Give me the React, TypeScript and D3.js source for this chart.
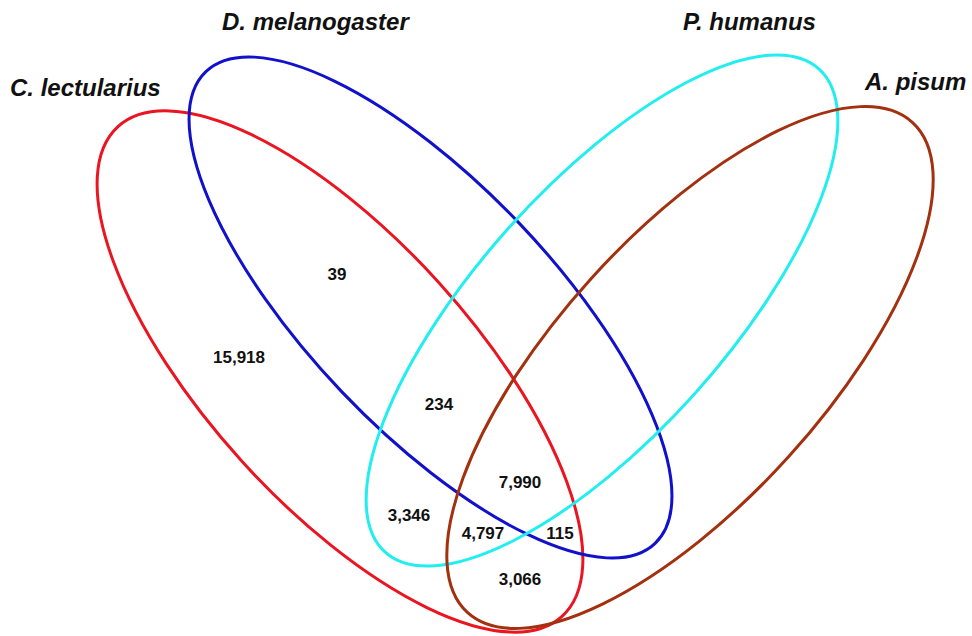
// Four-set Venn diagram of shared gene families between insect genomes
import React, { useEffect, useRef } from 'react';
import * as d3 from 'd3';

const species = ['C. lectularius', 'D. melanogaster', 'P. humanus', 'A. pisum'];
const speciesColors = ['#ea1520', '#1111cc', '#22eef0', '#a3300e'];

// counts shown in each region, with the sets the region belongs to
const regionCounts = [15918, 39, 234, 3346, 4797, 7990, 115, 3066];
const regionSets = ['C', 'CD', 'CDP', 'CP', 'CPA', 'CDPA', 'CDA', 'CA'];

// layout: ellipse centres / radii / angle in page pixels
const ellipseLayout = [
  { cx: 340, cy: 371.5, rx: 330.5, ry: 133, angle: 47.8 },
  { cx: 430.5, cy: 307.5, rx: 325.7, ry: 122.4, angle: 46.4 },
  { cx: 602, cy: 310.5, rx: 324.7, ry: 124.6, angle: -48.1 },
  { cx: 690, cy: 367.5, rx: 331, ry: 133, angle: -47.8 },
];
const titleLayout = [
  { x: 10, y: 96 },
  { x: 222, y: 30 },
  { x: 683, y: 30 },
  { x: 865, y: 90 },
];
const countLayout = [
  { x: 239, y: 357 },
  { x: 337, y: 274 },
  { x: 439, y: 404 },
  { x: 409, y: 515 },
  { x: 483, y: 533 },
  { x: 520, y: 482 },
  { x: 560, y: 533 },
  { x: 520, y: 579 },
];

const width = 972;
const height = 636;

const App: React.FC = () => {
  const svgRef = useRef<SVGSVGElement>(null);

  useEffect(() => {
    const svg = d3.select(svgRef.current);
    svg.selectAll('*').remove();

    svg.append('rect').attr('width', width).attr('height', height).attr('fill', '#fff');

    const fmt = d3.format(',');

    svg
      .append('g')
      .selectAll('ellipse')
      .data(ellipseLayout)
      .join('ellipse')
      .attr('cx', (d) => d.cx)
      .attr('cy', (d) => d.cy)
      .attr('rx', (d) => d.rx)
      .attr('ry', (d) => d.ry)
      .attr('transform', (d) => `rotate(${d.angle} ${d.cx} ${d.cy})`)
      .attr('fill', 'none')
      .attr('stroke', (_, i) => speciesColors[i])
      .attr('stroke-width', 3);

    svg
      .append('g')
      .selectAll('text')
      .data(species)
      .join('text')
      .attr('x', (_, i) => titleLayout[i].x)
      .attr('y', (_, i) => titleLayout[i].y)
      .style('font-family', 'Liberation Sans, Arial, sans-serif')
      .style('font-size', '24px')
      .style('font-weight', 'bold')
      .style('font-style', 'italic')
      .attr('fill', '#111')
      .text((d) => d);

    svg
      .append('g')
      .selectAll('text')
      .data(regionCounts)
      .join('text')
      .attr('x', (_, i) => countLayout[i].x)
      .attr('y', (_, i) => countLayout[i].y)
      .attr('text-anchor', 'middle')
      .attr('dominant-baseline', 'central')
      .style('font-family', 'Liberation Sans, Arial, sans-serif')
      .style('font-size', '17px')
      .style('font-weight', 'bold')
      .attr('fill', '#111')
      .attr('data-sets', (_, i) => regionSets[i])
      .text((d) => fmt(d));
  }, []);

  return (
    <svg
      ref={svgRef}
      width={width}
      height={height}
      style={{ position: 'absolute', left: 0, top: 0, display: 'block' }}
    />
  );
};

export default App;
